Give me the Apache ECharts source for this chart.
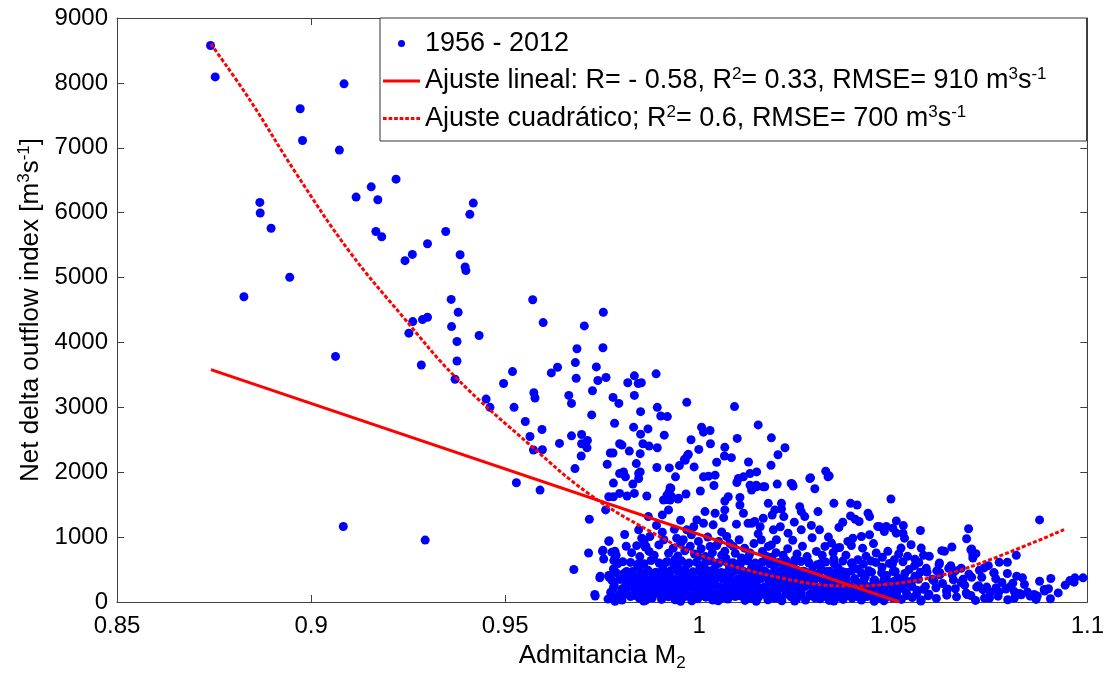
<!DOCTYPE html>
<html>
<head>
<meta charset="utf-8">
<script src="https://cdn.jsdelivr.net/npm/echarts@6/dist/echarts.min.js"></script>
<style>
html,body{margin:0;padding:0;background:#fff;}
#chart{width:1107px;height:677px;}
</style>
</head>
<body>
<div id="chart"></div>
<script>
// ---- Axis ticks ----
const xTicks = [0.85, 0.9, 0.95, 1, 1.05, 1.1];
const yTicks = [0, 1000, 2000, 3000, 4000, 5000, 6000, 7000, 8000, 9000];

// ---- Scattered points (Admitancia M2, NDOI) ----
const upperLeft = [
[0.8741,8576],[0.8753,8092],[0.8827,4704],[0.8868,6158],[0.8869,5995],[0.8897,5760],[0.8945,5005],[0.8972,7602],[0.8978,7113],[0.9063,3785],[0.9073,6964],[0.9085,7985],[0.9083,1163],[0.9116,6240],[0.9155,6398],[0.9172,6199],[0.9167,5709],[0.9182,5628],[0.9219,6516],[0.9242,5260],[0.9252,4143],[0.9261,5357],[0.9262,4321],[0.9287,4352],[0.9284,3653],[0.9294,954],[0.93,5521],[0.93,4388],[0.9347,5709],[0.9361,4663],[0.9362,4244],[0.9379,4465],[0.9376,4015],[0.9376,3714],[0.9371,3433],[0.9384,5352],[0.9397,5163],[0.9399,5107],[0.9409,5974],[0.9418,6148],[0.9433,4107]
];
const midScatter = [
[0.9451,3127],[0.9461,3000],[0.9496,3367],[0.9519,3551],[0.9523,3000],[0.9529,1837],[0.9552,2781],[0.9564,2551],[0.9571,4658],[0.9573,2342],[0.9574,3225],[0.9577,3143],[0.959,1725],[0.9595,2659],[0.9596,2347],[0.9598,4306],[0.9619,3531],[0.9635,3617],[0.964,2444],[0.9664,3184],[0.9671,3061],[0.9671,2561],[0.968,2056],[0.9677,500],[0.9681,3689],[0.9683,3449],[0.9685,3903],[0.9696,2250],[0.9697,2582],[0.9697,2439],[0.9704,4255],[0.9711,2377],[0.9712,2490],[0.9715,755],[0.9717,1275],[0.9723,2883],[0.9725,3255],[0.9732,92],[0.9735,3623],[0.9739,3413],[0.9744,372],[0.9751,781],[0.9752,3918],[0.9753,4465],[0.9754,663],[0.9759,1419],[0.976,3459],[0.9763,2123],[0.9767,1622],[0.9767,934],[0.9767,408],[0.9771,2296],[0.9778,2296],[0.9778,3153],[0.9779,1832],[0.9779,1622],[0.978,638],[0.9782,2755],[0.9783,781],[0.9793,3061],[0.9795,2439],[0.9795,1980],[0.9795,1673],[0.9801,2418],[0.9805,2005],[0.9808,1041],[0.981,1929],[0.9814,1633],[0.9816,3378],[0.982,2326],[0.9829,1817],[0.9831,2694],[0.9833,3485],[0.9833,3184],[0.9833,1673],[0.9838,2133],[0.984,577],[0.9843,3367],[0.9844,1980],[0.9844,1903],[0.9844,1112],[0.9848,2286],[0.9848,2005],[0.9849,2587],[0.9849,2933],[0.9851,3378],[0.9855,2439],[0.9863,857],[0.9865,1633],[0.9868,2668],[0.9869,1316],[0.9871,2403],[0.9889,3516],[0.9892,2377],[0.9891,2072],[0.9892,3000],[0.9901,2867],[0.9905,1342],[0.9905,1076],[0.991,2571],[0.9917,1581],[0.9918,2857],[0.9923,2066],[0.9925,1760],[0.9929,1622],[0.9939,1929],[0.9945,1587],[0.9949,2102],[0.9964,2184],[0.9966,1664],[0.9968,3077],[0.997,2260],[0.9979,2500],[0.9987,2082],
[0.9745,398],[0.9731,117],[0.9752,796],[0.9775,765],[0.9782,653],[0.9768,944],[0.9839,868],[0.9861,847],[0.9852,984],[0.9873,1010],[0.9921,1419],[0.9925,1572],[0.9917,1648],[0.9947,1597],[0.9959,960],[0.9942,984],[0.9968,1112],[0.998,1036],[0.9994,1265]
];
const rightScatter = [
[1.0011,1214],[1.0015,1393],[1.0036,1189],[1.0041,1367],[0.9998,934],[1.0028,857],[1.005,934],[1.0066,781],[1.0088,857],[1.0109,678],[1.0131,755],[1.0066,1419],[1.0075,1622],[1.0105,1495],[1.0114,1367],[1.0135,1214],[1.0135,1725],
[1.0006,2694],[1.0028,2643],[1.0011,2617],[1.0029,2439],[0.9999,2352],[1.0066,2383],[1.0065,2250],[1.0083,2224],[1.0186,2530],[1.0098,2521],[1.0221,2377],[1.0203,2270],[0.9972,2276],[0.9962,2199],[1.0045,2153],[1.0185,2107],[1.0127,2158],[1.0148,2005],[1.0131,1980],[1.0114,1929],[1.0101,1903],[1.0097,1842],[1.0041,1955],[1.0024,1939],[1.0011,1929],[1.0038,1796],[1.0003,1710],[0.9927,1750],[0.9923,1699],[0.9908,1572],[1.0066,1557],[1.0105,1612],[1.0169,1776],[1.024,1817],[1.0242,1786],[1.0287,1913],[1.0298,1745],[1.0326,2016],[1.0335,1944],[1.0347,1520],[1.0494,1587],[1.039,1520],[1.0407,1495],[1.037,1229],[1.039,1327],[1.0402,1275],[1.0435,1367],[1.0439,1316],[1.0464,1163],[1.0482,1163],[1.0508,1250],[1.0526,1178],[1.057,1102],[1.0508,1061],[1.0529,984],[1.0694,1128],[1.0689,975],[1.0651,847],[1.0625,791],[1.07,806],[1.0705,730],[1.0877,1265],[1.0817,719],[1.0773,612],[1.0794,612],[1.0734,525],[1.076,449],[1.0818,398],[1.0833,372],[1.0906,362],[1.0943,260],[1.0968,372],[1.0989,372],[1.0889,194],[1.0846,153],[1.0863,117],[1.0871,92],[1.0829,117],[1.0966,306],[1.09,204],[1.089,168],
[1.0091,3011],[1.0152,2729],[1.0131,1801],[1.0148,1776],
[1.0306,1393],[1.0259,1469],[1.0263,1393],[1.0272,1316],[1.0212,1520],[1.0212,1434],[1.0218,1316],[1.0195,1419],[1.0178,1520],[1.0165,1290],[1.0143,1240],[1.0126,1214],[1.0237,1826],[1.0285,1903],[1.0332,1929],[1.0201,1817],[1.0147,1801],[1.0165,1776],[1.031,1112],[1.0263,1112],[1.0229,1061],[1.0191,1112],[1.016,960],[1.0199,960],[1.0178,857],[1.0341,908],[1.0324,857],[1.0353,831],[1.0383,934],[1.0396,984],[1.0418,1010],[1.0439,1036],[1.046,1163],[1.0477,1087],[1.0499,1137],[1.0525,1061],[1.0546,883],[1.0572,831],[1.0593,704],[1.0619,602],[1.0632,781],[1.0409,653],[1.043,704],[1.0456,755],[1.0486,781],[1.0503,653],[1.052,831],[1.0537,704],
[1.066,480],[1.068,350],[1.072,250],[1.075,150],[1.078,300],[1.062,420],[1.064,200],[1.07,100],[1.08,230],[1.0905,50],[1.0702,816],[1.0713,745],[1.0705,678],[1.0794,439],[1.0759,449]
];
const fringe = [
[0.9786,720],[0.9812,860],[0.9826,760],[0.9847,700],[0.9858,930],[0.9871,780],[0.9884,720],[0.9896,880],[0.9909,960],[0.9921,750],[0.9933,830],[0.9945,710],[0.9952,900],[0.9963,790],[0.9977,860],[0.9988,740],[1.0005,820],[1.0016,700],[1.0022,1000],[1.0034,760],[1.0045,870],[1.0058,720],[1.0071,1010],[1.0079,900],[1.0093,750],[1.0103,960],[1.0117,830],[1.0128,710],[1.0141,900],[1.0152,1050],[1.0163,780],[1.0174,700],[1.0186,880],[1.0198,760],[1.0209,1160],[1.0216,720],[1.0228,820],[1.0241,950],[1.0252,740],[1.0266,860],[1.0278,700],[1.0291,990],[1.0302,780],[1.0317,720],[1.0333,1000],[1.0345,760],[1.0362,840],[1.0378,720],[1.0392,870],[1.0421,830],[1.0449,900],[1.0472,690],[1.0514,740],[1.0556,660],[1.0578,720],
[0.989,1180],[0.9936,1120],[0.9986,1160],[1.0058,1080],[1.0096,1200],[1.0157,1160],[1.0245,1230],[1.0289,1180],[1.036,1150],[1.0412,1240],[1.0063,1300],[0.9952,1260],[1.0188,1340],
[1.0555,560],[1.0585,520],[1.0612,480],[1.0648,560],[1.0675,520],[1.0695,430],[1.0728,380],[1.0745,560],[1.0675,300],[1.0735,60],[1.0765,220],[1.0812,160],[1.0838,270],[1.0877,320],[1.0812,60],[1.0868,40],[1.0925,140],[1.0955,330]
];

// ---- Dense low-flow cluster, estimated row by row ----
const rowAx = [0.9765,0.9787,0.9801,0.9823,0.9846,0.9862,0.9879,0.9903,0.9921,0.9938,0.9957,0.9981,0.9996,1.0017,1.0035,1.0058,1.0074,1.0093,1.0118,1.0134,1.0152,1.0177,1.0195,1.0213,1.0236,1.0251,1.0274,1.0298,1.0312,1.0335,1.0356,1.0371,1.0394,1.0418,1.0433,1.0457,1.0476,1.0498,1.0521,1.0549,1.0572,1.0611,1.0663,1.0712,1.0748,1.0795,1.0853];
const rowAy = [45,70,30,85,55,25,60,40,80,35,65,20,50,75,30,60,45,85,25,55,70,35,60,20,80,45,30,65,50,25,75,40,60,30,85,50,20,65,40,70,30,55,80,25,60,35,90];
const rowA2x = [0.9776,0.9794,0.9812,0.9835,0.9854,0.987,0.9891,0.9912,0.993,0.9947,0.9969,0.9988,1.0007,1.0026,1.0046,1.0066,1.0083,1.0105,1.0126,1.0143,1.0164,1.0186,1.0204,1.0224,1.0243,1.0262,1.0286,1.0305,1.0323,1.0345,1.0363,1.0382,1.0406,1.0425,1.0445,1.0466,1.0487,1.0509,1.0535,1.056,1.059,1.0638,1.069,1.077,1.083];
const rowA2y = [105,90,125,100,115,85,130,95,110,120,90,125,105,85,115,100,130,95,110,90,120,105,85,125,100,115,95,130,90,110,120,100,85,125,105,115,90,110,100,120,95,105,115,90,110];
const rowBx = [0.9772,0.9795,0.9812,0.9834,0.9851,0.987,0.9892,0.991,0.9929,0.9948,0.9966,0.9987,1.0006,1.0026,1.0043,1.0066,1.0085,1.0104,1.0126,1.0143,1.0164,1.0185,1.0204,1.0225,1.0243,1.0263,1.0285,1.0304,1.0325,1.0344,1.0364,1.0383,1.0406,1.0425,1.0446,1.0467,1.0487,1.0509,1.0534,1.0561,1.0592,1.0637,1.0688,1.0731,1.0772,1.0826];
const rowBy = [150,120,180,140,195,130,165,110,185,145,125,170,155,190,115,160,140,200,125,175,150,115,190,135,165,145,120,185,150,130,195,160,115,175,140,190,125,160,145,180,120,170,140,190,155,130];
const rowB2x = [0.9779,0.9801,0.982,0.9839,0.986,0.9879,0.9901,0.9919,0.9938,0.9957,0.9978,0.9997,1.0016,1.0035,1.0056,1.0075,1.0095,1.0115,1.0134,1.0154,1.0175,1.0195,1.0214,1.0234,1.0253,1.0274,1.0294,1.0314,1.0334,1.0354,1.0373,1.0394,1.0416,1.0436,1.0456,1.0477,1.0498,1.0522,1.0548,1.0577,1.061,1.066,1.0715,1.079];
const rowB2y = [215,200,235,195,225,210,240,190,220,205,230,195,215,240,200,225,210,190,235,205,220,195,230,215,200,240,210,225,195,220,235,205,215,190,230,200,225,210,240,195,220,205,230,200];
const rowCx = [0.9781,0.9808,0.9827,0.9842,0.9866,0.9885,0.9898,0.9917,0.9942,0.9961,0.9975,0.9993,1.0012,1.0031,1.0052,1.0071,1.0089,1.0111,1.0129,1.0148,1.0169,1.0189,1.0209,1.0228,1.0248,1.0269,1.0289,1.0308,1.0329,1.0349,1.0367,1.0389,1.0411,1.0438,1.0462,1.0491,1.0516,1.0547,1.0583,1.0627,1.0684,1.0741,1.0808];
const rowCy = [260,230,290,250,310,240,275,225,300,265,235,285,255,315,230,270,295,245,320,260,235,290,250,310,270,240,300,225,280,260,315,245,290,235,270,300,250,320,240,285,260,230,290];
const rowC2x = [0.9775,0.9795,0.9816,0.9834,0.9853,0.9876,0.9893,0.9908,0.9929,0.9951,0.9968,0.9984,1.0003,1.0022,1.0041,1.0061,1.008,1.01,1.012,1.0138,1.0159,1.0179,1.0199,1.0218,1.0238,1.0259,1.0279,1.0298,1.0319,1.0339,1.0358,1.0378,1.04,1.0424,1.045,1.0476,1.0503,1.0531,1.0565,1.0605,1.0655];
const rowC2y = [335,350,320,345,330,355,325,340,360,330,345,320,350,335,325,355,340,330,345,320,360,335,350,325,340,355,330,345,320,350,335,325,355,340,330,345,320,335,350,325,340];
const rowDx = [0.9768,0.9798,0.9819,0.9838,0.9857,0.9875,0.9895,0.9913,0.9934,0.9953,0.9971,0.9991,1.0009,1.0028,1.0048,1.0062,1.0081,1.0099,1.0121,1.0139,1.0158,1.0181,1.0199,1.0219,1.0239,1.0258,1.0279,1.0301,1.0318,1.0339,1.0361,1.0378,1.0401,1.0428,1.0452,1.0483,1.0512,1.0556,1.0601,1.0652,1.0702,1.0764];
const rowDy = [380,350,420,365,395,340,430,370,355,410,385,345,425,375,400,360,435,350,390,415,370,340,405,380,355,430,365,395,345,420,375,400,360,385,340,410,370,395,350,420,380,360];
const rowD2x = [0.9785,0.9806,0.9828,0.9849,0.9866,0.9885,0.9904,0.9923,0.9944,0.9962,0.998,1.0,1.0019,1.0037,1.0055,1.0072,1.009,1.011,1.013,1.0149,1.0168,1.0188,1.0208,1.0228,1.0248,1.0268,1.0288,1.0309,1.033,1.035,1.037,1.0393,1.0418,1.0444,1.047,1.05,1.053,1.057,1.062];
const rowD2y = [455,440,470,450,480,445,465,440,475,455,445,470,450,480,440,460,475,445,465,450,480,440,470,455,445,475,460,440,470,450,465,480,445,460,450,470,440,460,450];
const rowEx = [0.9779,0.9813,0.9845,0.9868,0.9889,0.9906,0.9926,0.9944,0.9963,0.9984,1.0002,1.0021,1.0039,1.0057,1.0078,1.0096,1.0115,1.0135,1.0154,1.0172,1.0193,1.0215,1.0232,1.0252,1.0273,1.0293,1.0315,1.0336,1.0358,1.0381,1.0408,1.0437,1.0471,1.0505,1.0541,1.0587,1.0643,1.0722];
const rowEy = [510,470,540,490,460,525,480,555,500,465,535,485,515,455,545,495,470,530,505,460,550,480,520,490,465,540,500,475,525,455,510,480,535,470,500,460,520,490];
const rowE2x = [0.979,0.9823,0.9851,0.9876,0.9897,0.9917,0.9935,0.9955,0.9974,0.9993,1.0012,1.003,1.005,1.0068,1.0087,1.0106,1.0125,1.0144,1.0164,1.0182,1.0204,1.0223,1.0243,1.0262,1.0283,1.0304,1.0326,1.0348,1.037,1.0395,1.0423,1.0455,1.049,1.0525];
const rowE2y = [590,610,575,640,600,620,585,630,600,615,580,640,595,625,605,580,635,600,620,590,610,645,585,625,600,575,615,590,630,600,580,610,595,620];
const rowFx = [0.9803,0.9858,0.9882,0.9915,0.9937,0.9969,0.9998,1.0024,1.0047,1.0069,1.0102,1.0124,1.0161,1.0187,1.0217,1.0246,1.0281,1.0313,1.0347,1.0392,1.0443,1.0498,1.0566,1.0618];
const rowFy = [620,590,680,610,650,580,700,630,600,670,590,640,610,690,580,650,620,595,660,600,630,585,610,575];
const rowGx = [0.9783,0.9806,0.9829,0.9857,0.9881,0.9907,0.9926,0.9952,0.9975,0.9999,1.0021,1.0049,1.0071,1.0098,1.0123,1.0147,1.0171,1.0196,1.0221,1.0246,1.0271,1.0296,1.0322,1.0347,1.0372,1.0398,1.0424,1.0451,1.0479,1.0507,1.0538,1.0571];
const rowGy = [10,170,290,15,400,160,280,12,410,175,300,18,395,165,285,10,405,170,295,14,390,160,280,16,410,175,290,12,400,165,285,15];

// ---- Fitted curves ----
const linearX = [0.8742, 1.0516];
const linearY = [3580, 0];
const quadX = [0.8742,0.8842,0.8962,0.9099,0.9236,0.9373,0.957,0.9715,0.987,0.9998,1.0212,1.0383,1.0469,1.0597,1.0726,1.094];
const quadY = [8600,7740,6600,5400,4400,3460,2390,1670,1100,730,370,245,265,375,600,1115];

// ---- Build ----
function zipXY(xs, ys){ const n = Math.min(xs.length, ys.length); const out=[]; for(let i=0;i<n;i++) out.push([xs[i], ys[i]]); return out; }
const scatterData = [].concat(
  upperLeft, midScatter, rightScatter, fringe,
  zipXY(rowAx,rowAy), zipXY(rowA2x,rowA2y), zipXY(rowBx,rowBy), zipXY(rowB2x,rowB2y),
  zipXY(rowCx,rowCy), zipXY(rowC2x,rowC2y), zipXY(rowDx,rowDy), zipXY(rowD2x,rowD2y),
  zipXY(rowEx,rowEy), zipXY(rowE2x,rowE2y), zipXY(rowFx,rowFy), zipXY(rowGx,rowGy)
);

const FONT = 'Liberation Sans';
const chart = echarts.init(document.getElementById('chart'), null, {renderer:'canvas'});
const legendText = {
  '1956 - 2012': '{t|1956 - 2012}',
  'lin': '{t|Ajuste lineal: R= - 0.58, R}{s|2}{t|= 0.33, RMSE= 910 m}{s|3}{t|s}{s|-1}',
  'quad': '{t|Ajuste cuadrático; R}{s|2}{t|= 0.6, RMSE= 700 m}{s|3}{t|s}{s|-1}'
};
let dotted = 'path://';
for (let i = 0; i < 37; i += 6) dotted += 'M' + i + ',0h4v3h-4z ';
const solidIcon = 'path://M0,0H37V3H0Z';
const axisLineStyle = {color:'#404040', width:1};
const baseAxisX = {type:'value', min:0.85, max:1.1, interval:0.05, splitLine:{show:false}};
const baseAxisY = {type:'value', min:0, max:9000, interval:1000, splitLine:{show:false}};

chart.setOption({
  animation:false,
  backgroundColor:'#ffffff',
  grid:{left:117, right:17, top:18, bottom:71, show:false},
  legend:{
    orient:'vertical', left:380, top:18,
    padding:[12,40,9,3],
    itemGap:9, itemWidth:37, itemHeight:7,
    borderColor:'#333', borderWidth:1, backgroundColor:'#fff',
    data:[{name:'1956 - 2012', icon:'circle'},{name:'lin', icon:solidIcon},{name:'quad', icon:dotted}],
    formatter:(n)=>legendText[n],
    textStyle:{
      fontFamily:FONT, fontSize:27, color:'#000',
      rich:{
        t:{fontFamily:FONT, fontSize:27, color:'#000', lineHeight:30},
        s:{fontFamily:FONT, fontSize:17, color:'#000', padding:[0,0,13,0]}
      }
    }
  },
  xAxis:[
    Object.assign({}, baseAxisX, {
      position:'bottom',
      axisLine:{show:true, onZero:false, lineStyle:axisLineStyle},
      axisTick:{show:true, inside:true, length:7, lineStyle:axisLineStyle},
      axisLabel:{fontFamily:FONT, fontSize:24, color:'#000', margin:12,
        formatter:(v)=>{ const t = xTicks.find(k=>Math.abs(k-v)<1e-9); return t===undefined? '' : String(t); }},
      name:'{t|Admitancia M}{b|2}', nameLocation:'middle', nameGap:38,
      nameTextStyle:{rich:{
        t:{fontFamily:FONT, fontSize:26, color:'#000'},
        b:{fontFamily:FONT, fontSize:17, color:'#000', padding:[15,0,0,0]}
      }}
    }),
    Object.assign({}, baseAxisX, {
      position:'top',
      axisLine:{show:true, onZero:false, lineStyle:axisLineStyle},
      axisTick:{show:true, inside:true, length:7, lineStyle:axisLineStyle},
      axisLabel:{show:false}
    })
  ],
  yAxis:[
    Object.assign({}, baseAxisY, {
      position:'left',
      axisLine:{show:true, onZero:false, lineStyle:axisLineStyle},
      axisTick:{show:true, inside:true, length:7, lineStyle:axisLineStyle},
      axisLabel:{fontFamily:FONT, fontSize:24, color:'#000', margin:9,
        formatter:(v)=> yTicks.indexOf(v)>=0 ? String(v) : ''},
      name:'{t|Net delta outflow index [m}{s|3}{t|s}{s|-1}{t|]}', nameLocation:'middle', nameGap:66,
      nameTextStyle:{rich:{
        t:{fontFamily:FONT, fontSize:26, color:'#000'},
        s:{fontFamily:FONT, fontSize:17, color:'#000', padding:[0,0,13,0]}
      }}
    }),
    Object.assign({}, baseAxisY, {
      position:'right',
      axisLine:{show:true, onZero:false, lineStyle:axisLineStyle},
      axisTick:{show:true, inside:true, length:7, lineStyle:axisLineStyle},
      axisLabel:{show:false}
    })
  ],
  series:[
    {name:'1956 - 2012', type:'scatter', xAxisIndex:0, yAxisIndex:0, large:false,
     symbol:'circle', symbolSize:9, itemStyle:{color:'#0000ff', opacity:1}, data:scatterData, z:2},
    {name:'lin', type:'line', xAxisIndex:0, yAxisIndex:0, showSymbol:false, symbol:'none',
     lineStyle:{color:'#ff0000', width:3}, itemStyle:{color:'#ff0000'},
     data:zipXY(linearX, linearY), z:3},
    {name:'quad', type:'line', xAxisIndex:0, yAxisIndex:0, showSymbol:false, symbol:'none', smooth:0.4,
     lineStyle:{color:'#ff0000', width:3, type:[4,2]}, itemStyle:{color:'#ff0000'},
     data:zipXY(quadX, quadY), z:3}
  ]
});
</script>
</body>
</html>
